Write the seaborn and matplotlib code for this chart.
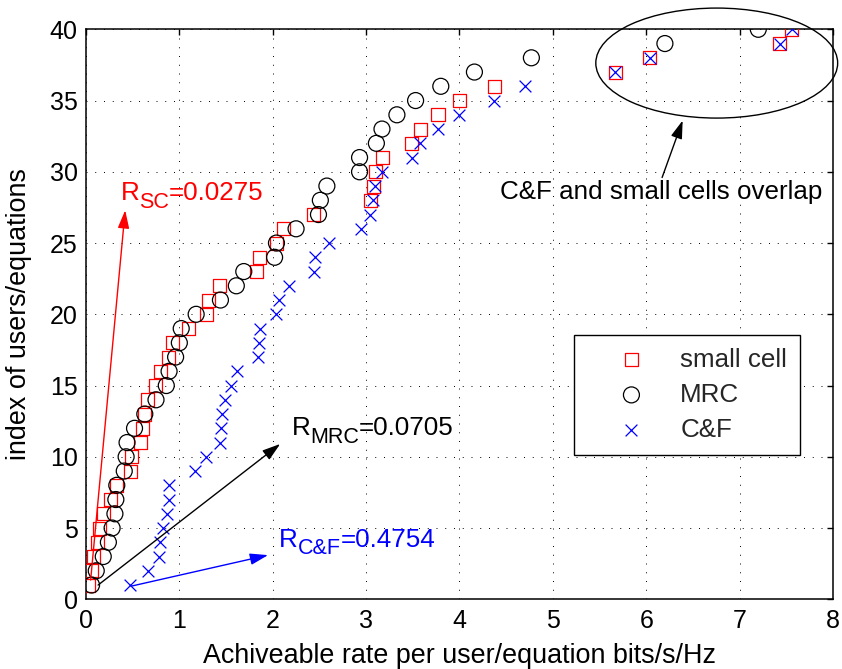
import numpy as np
import pandas as pd
import matplotlib
matplotlib.use("Agg")
import matplotlib.pyplot as plt
from matplotlib.patches import Ellipse
import seaborn as sns

# ---- data: achievable rate of every user / equation, sorted by index ----
user_index = list(range(1, 41))

rate_small_cell = [0.03, 0.06, 0.08, 0.12, 0.14, 0.185, 0.26, 0.33, 0.48, 0.49,
                   0.58, 0.61, 0.63, 0.66, 0.74, 0.80, 0.88, 0.93, 1.10, 1.29,
                   1.31, 1.43, 1.83, 1.86, 2.04, 2.12, 2.44, 3.05, 3.08, 3.10,
                   3.18, 3.49, 3.58, 3.77, 4.00, 4.37, 5.67, 6.04, 7.43, 7.56]

rate_mrc = [0.06, 0.11, 0.185, 0.24, 0.28, 0.31, 0.32, 0.33, 0.41, 0.43,
            0.44, 0.52, 0.63, 0.75, 0.86, 0.89, 0.96, 1.00, 1.02, 1.18,
            1.44, 1.61, 1.69, 2.02, 2.04, 2.25, 2.49, 2.51, 2.58, 2.93,
            2.93, 3.11, 3.17, 3.33, 3.53, 3.80, 4.16, 4.77, 6.20, 7.20]

rate_cf = [0.47, 0.66, 0.78, 0.79, 0.83, 0.87, 0.89, 0.89, 1.17, 1.29,
           1.44, 1.45, 1.46, 1.49, 1.55, 1.62, 1.84, 1.85, 1.86, 2.04,
           2.07, 2.17, 2.44, 2.45, 2.60, 2.95, 3.04, 3.07, 3.09, 3.17,
           3.49, 3.58, 3.77, 4.00, 4.37, 4.70, 5.67, 6.04, 7.43, 7.56]

scheme_names = ["small cell", "MRC", "C&F"]

# minimum rates written next to the arrows
r_sc, r_mrc, r_cf = "0.0275", "0.0705", "0.4754"

x_ticks = list(range(0, 9))
y_ticks = list(range(0, 41, 5))

df = pd.DataFrame({
    "rate": rate_small_cell + rate_mrc + rate_cf,
    "index": user_index * 3,
    "scheme": [scheme_names[0]] * 40 + [scheme_names[1]] * 40 + [scheme_names[2]] * 40,
})

# ---- style ----
sns.set_theme(style="white")
plt.rcParams["font.family"] = ["Liberation Sans", "DejaVu Sans"]

FS_TICK = 18
FS_LABEL = 19.4
FS_TEXT = 18.7
FS_SUB = 15.5

fig = plt.figure(figsize=(8.42, 6.69), dpi=100)
ax = fig.add_axes([0.1021, 0.1042, 0.8872, 0.852])

marker_specs = {
    "small cell": dict(marker="s", s=88, color="#ff0000", filled=False),
    "MRC": dict(marker="o", s=132, color="black", filled=False),
    "C&F": dict(marker="x", s=72, color="#0000ff", filled=True),
}

for name in scheme_names:
    spec = marker_specs[name]
    sub = df[df["scheme"] == name]
    n_before = len(ax.collections)
    sns.scatterplot(data=sub, x="rate", y="index", marker=spec["marker"],
                    s=spec["s"], color=spec["color"], label=name, ax=ax,
                    linewidth=0.9, zorder=3, legend=False)
    coll = ax.collections[n_before]
    if spec["filled"]:
        coll.set_facecolor(spec["color"])
        coll.set_edgecolor(spec["color"])
    else:
        coll.set_facecolor("none")
        coll.set_edgecolor(spec["color"])
    coll.set_linewidth(0.9)

# ---- axes ----
ax.set_xlim(0, 8)
ax.set_ylim(0, 40)
ax.set_xticks(x_ticks)
ax.set_yticks(y_ticks)
ax.set_xticklabels([str(t) for t in x_ticks], fontsize=FS_TICK)
ax.set_yticklabels([str(t) for t in y_ticks], fontsize=FS_TICK)
ax.tick_params(direction="in", length=4.5, width=1, top=True, right=True,
               color="black", labelcolor="black")
ax.tick_params(axis="x", pad=7)
ax.tick_params(axis="y", pad=6)
for sp in ax.spines.values():
    sp.set_visible(True)
    sp.set_color("black")
    sp.set_linewidth(1.1)
ax.grid(True, color="black", linestyle=(0, (1, 8)), linewidth=0.7)
ax.set_axisbelow(True)

ax.set_xlabel("Achiveable rate per user/equation bits/s/Hz", fontsize=FS_LABEL, color="black")
ax.set_ylabel("index of users/equations", fontsize=FS_LABEL, color="black")
ax.xaxis.set_label_coords(0.5, -0.076)
ax.yaxis.set_label_coords(-0.072, 0.5)

# ---- legend ----
leg = ax.legend(loc="upper right", bbox_to_anchor=(0.956, 0.464), fontsize=FS_TEXT,
                frameon=True, fancybox=False, edgecolor="black", framealpha=1,
                handlelength=3.4, handletextpad=0.18, borderpad=0.5,
                labelspacing=0.42, borderaxespad=0)
leg.get_frame().set_linewidth(1.0)

# ---- annotations: minimum rate of each scheme ----
def rate_label(x, y, sub, value, color):
    base = ax.text(x, y, "R", fontsize=FS_TEXT, color=color, ha="left",
                   va="baseline", zorder=5)
    s = ax.annotate(sub, xy=(1, 0), xycoords=base, xytext=(0, -5.5),
                    textcoords="offset points", fontsize=FS_SUB, color=color,
                    ha="left", va="bottom", zorder=5)
    ax.annotate("=" + value, xy=(1, 0), xycoords=(s, base), fontsize=FS_TEXT,
                color=color, ha="left", va="bottom", zorder=5)

def arrow(tail, tip, color):
    ax.annotate("", xy=tip, xytext=tail,
                arrowprops=dict(arrowstyle="-|>,head_length=1.1,head_width=0.35",
                                color=color, lw=1.0, shrinkA=0, shrinkB=0,
                                mutation_scale=10),
                annotation_clip=False, zorder=4)

rate_label(0.37, 28.03, "SC", r_sc, "#ff0000")
rate_label(2.20, 11.53, "MRC", r_mrc, "black")
rate_label(2.07, 3.69, "C&F", r_cf, "#0000ff")

arrow((0.05, 1.35), (0.42, 27.3), "#ff0000")
arrow((0.13, 1.0), (2.08, 10.9), "black")
arrow((0.49, 0.93), (1.95, 3.1), "#0000ff")

# region where the C&F and small cell points coincide
ell = Ellipse((6.755, 37.63), width=2.59, height=7.72, fill=False,
              edgecolor="black", linewidth=1.0, clip_on=False, zorder=4)
ax.add_patch(ell)
ax.text(4.43, 28.07, "C&F and small cells overlap", fontsize=FS_TEXT, color="black",
        ha="left", va="baseline", zorder=5)
arrow((6.17, 29.6), (6.39, 33.6), "black")

fig.savefig("out.png", dpi=100)
